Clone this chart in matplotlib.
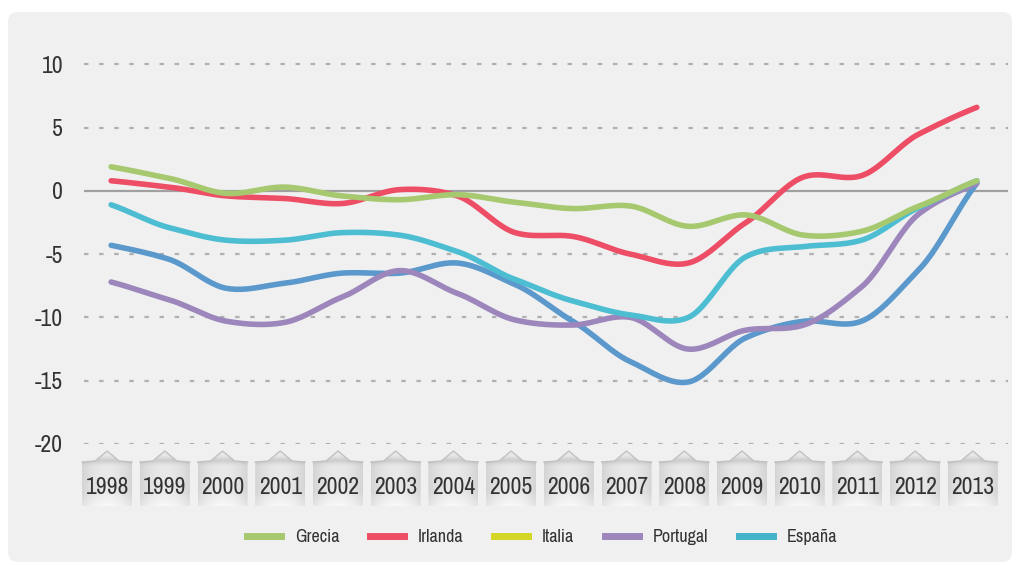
import numpy as np
import matplotlib
matplotlib.use("Agg")
import matplotlib.pyplot as plt
import matplotlib.transforms as mtrans
from matplotlib.patches import FancyBboxPatch, Polygon
from matplotlib.lines import Line2D
from matplotlib import font_manager

years = list(range(1998, 2014))
year_labels = [str(y) for y in years]

grecia = [1.9, 1.0, -0.2, 0.3, -0.4, -0.7, -0.3, -0.9, -1.4, -1.2, -2.8, -1.9, -3.5, -3.2, -1.2, 0.8]
irlanda = [0.8, 0.3, -0.4, -0.6, -1.0, 0.1, -0.4, -3.3, -3.6, -5.0, -5.7, -2.5, 1.1, 1.2, 4.5, 6.6]
italia = []  # not visible in the chart
portugal = [-7.2, -8.6, -10.3, -10.4, -8.4, -6.3, -8.1, -10.2, -10.6, -10.0, -12.5, -11.0, -10.6, -7.6, -1.8, 0.6]
espana = [-1.1, -2.9, -3.9, -3.9, -3.3, -3.5, -4.8, -7.0, -8.7, -9.8, -10.0, -5.2, -4.4, -3.9, -1.3, 0.8]
otro = [-4.3, -5.4, -7.7, -7.3, -6.5, -6.5, -5.7, -7.4, -10.3, -13.5, -15.1, -11.6, -10.3, -10.3, -6.2, 0.6]

yticks = [10, 5, 0, -5, -10, -15, -20]

c_grecia = "#a6c86e"
c_irlanda = "#ee4d66"
c_italia = "#d3d624"
c_portugal = "#9c86bb"
c_espana = "#4dbdd2"
c_otro = "#5b98cc"

# look for a condensed / narrow face
cond_family = None
cond_stretch = "normal"
for f in font_manager.fontManager.ttflist:
    nm = f.name
    if "Narrow" in nm or "Condensed" in nm:
        cond_family = nm
        break
if cond_family is None:
    for f in font_manager.fontManager.ttflist:
        st = f.stretch
        if (isinstance(st, str) and "condensed" in st) or (isinstance(st, int) and st < 500):
            cond_family = f.name
            cond_stretch = st
            break
if cond_family is None:
    cond_family = "DejaVu Sans"
FONT = [cond_family, "DejaVu Sans"]
plt.rcParams['font.family'] = FONT
plt.rcParams['font.stretch'] = cond_stretch if isinstance(cond_stretch, str) else "condensed"
narrow = cond_family != "DejaVu Sans"
tick_fs = 17 if narrow else 13.5
leg_fs = 13 if narrow else 11

W, H = 1016, 565
fig = plt.figure(figsize=(W / 100, H / 100), dpi=100, facecolor="white")

bg = fig.add_axes([0, 0, 1, 1], zorder=0)
bg.set_xlim(0, W)
bg.set_ylim(H, 0)
bg.axis("off")
bg.add_patch(FancyBboxPatch((8, 12), 1004, 550, boxstyle="round,pad=0,rounding_size=10",
                            facecolor="#f0f0f0", edgecolor="none"))

ax = fig.add_axes([84 / W, 1 - 444 / H, (1008 - 84) / W, (444 - 39) / H], zorder=2)
ax.set_facecolor("none")
ax.set_xlim(1997.53, 2013.54)
ax.set_ylim(-20, 12)
for s in ax.spines.values():
    s.set_visible(False)

for v in yticks:
    if v == 0:
        ax.axhline(v, color="#a0a0a0", lw=1.6, zorder=1)
    else:
        ax.axhline(v, color="#b0b0b0", lw=1.6, dashes=(2.0, 4.8), zorder=1)


def smooth(x, y, n=24):
    x = np.asarray(x, float)
    y = np.asarray(y, float)
    m = np.gradient(y, x) * 0.85
    xs, ys = [], []
    for i in range(len(x) - 1):
        t = np.linspace(0, 1, n, endpoint=False)
        h = x[i + 1] - x[i]
        h00 = 2 * t**3 - 3 * t**2 + 1
        h10 = t**3 - 2 * t**2 + t
        h01 = -2 * t**3 + 3 * t**2
        h11 = t**3 - t**2
        xs.append(x[i] + t * h)
        ys.append(h00 * y[i] + h10 * h * m[i] + h01 * y[i + 1] + h11 * h * m[i + 1])
    xs.append([x[-1]])
    ys.append([y[-1]])
    return np.concatenate(xs), np.concatenate(ys)


lw = 4.0
series = [
    (otro, c_otro, "_nolegend_"),
    (portugal, c_portugal, "Portugal"),
    (espana, c_espana, "España"),
    (irlanda, c_irlanda, "Irlanda"),
    (grecia, c_grecia, "Grecia"),
]
for data, col, lab in series:
    sx, sy = smooth(years, data)
    ax.plot(sx, sy, color=col, lw=lw, solid_capstyle="round", zorder=3, label=lab)
ax.plot(years[:len(italia)], italia, color=c_italia, lw=lw, label="Italia")

ax.set_yticks(yticks)
ax.set_yticklabels([str(v) for v in yticks])
ax.set_xticks(years)
ax.set_xticklabels(year_labels)
ax.tick_params(axis="y", length=0, pad=15, labelsize=tick_fs, labelcolor="#333333")
ax.tick_params(axis="x", length=0, pad=24 if narrow else 26, labelsize=tick_fs, labelcolor="#333333")

LABEL_SHIFT = -4  # px, labels sit slightly left of the data points
shift = mtrans.ScaledTranslation(LABEL_SHIFT / 100, 0, fig.dpi_scale_trans)
for t in ax.get_xticklabels():
    t.set_transform(t.get_transform() + shift)

# tag shapes behind year labels
fig.canvas.draw()
nx, ny = 50, 56
xx = np.linspace(-1, 1, nx)[None, :]
yy = np.linspace(0, 1, ny)[:, None]
horiz = 0.83 + 0.08 * (1 - np.abs(xx) ** 2)
top_shadow = -0.10 * np.exp(-((yy - 0.18) / 0.06) ** 2)
bottom_fade = 0.06 * np.clip((yy - 0.75) / 0.25, 0, 1)
grad = np.clip(horiz + top_shadow + bottom_fade, 0, 1)
for yr in years:
    cx = ax.transData.transform((yr, 0))[0] + LABEL_SHIFT
    pts = [(cx - 25, 506), (cx - 25, 462), (cx - 12, 461), (cx, 451), (cx + 12, 461),
           (cx + 25, 462), (cx + 25, 506)]
    poly = Polygon(pts, closed=True, facecolor="none", edgecolor="none")
    bg.add_patch(poly)
    im = bg.imshow(grad, cmap="gray", vmin=0, vmax=1, extent=(cx - 25, cx + 25, 506, 450),
                   aspect="auto", interpolation="bilinear", zorder=1)
    im.set_clip_path(poly)
    tx = [p[0] for p in pts[1:-1]]
    ty = [p[1] for p in pts[1:-1]]
    bg.plot(tx, ty, color="#c2c2c2", lw=1.0, zorder=2, solid_joinstyle="round")
bg.set_xlim(0, W)
bg.set_ylim(H, 0)

handles = [
    Line2D([], [], color=c_grecia, lw=5),
    Line2D([], [], color=c_irlanda, lw=5),
    Line2D([], [], color=c_italia, lw=5),
    Line2D([], [], color=c_portugal, lw=5),
    Line2D([], [], color="#45b3c8", lw=5),
]
labels = ["Grecia", "Irlanda", "Italia", "Portugal", "España"]
leg = fig.legend(handles, labels, loc="center", bbox_to_anchor=(542 / W, 1 - 537 / H), ncol=5,
                 frameon=False, fontsize=leg_fs, handlelength=1.9, handletextpad=0.75,
                 columnspacing=1.7, labelcolor="#333333")

fig.savefig("out.png", dpi=100, facecolor="white")
